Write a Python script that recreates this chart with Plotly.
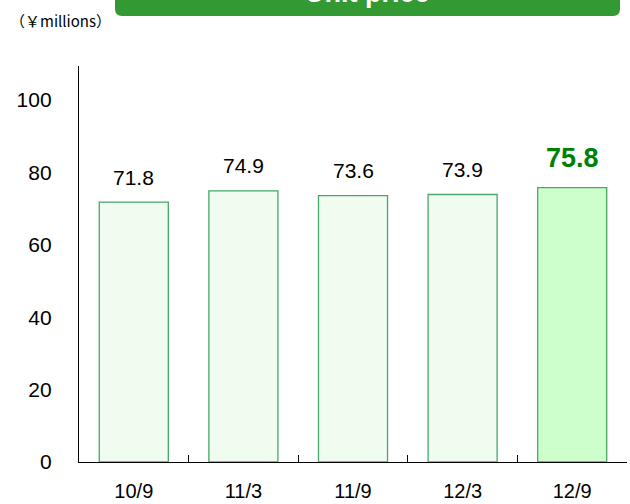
import plotly.graph_objects as go

categories = ["10/9", "11/3", "11/9", "12/3", "12/9"]
values = [71.8, 74.9, 73.6, 73.9, 75.8]
y_ticks = [0, 20, 40, 60, 80, 100]
title_text = "Unit price"
unit_text = "（￥millions）"

FONT = "Liberation Sans, Arial, sans-serif"

fills = ["#effcef"] * 4 + ["#ccffcc"]

fig = go.Figure()
fig.add_trace(go.Bar(
    x=categories, y=values,
    width=0.63,
    marker=dict(color=fills, line=dict(color="#45a86a", width=1.3)),
    hoverinfo="skip",
))

for i, (c, v) in enumerate(zip(categories, values)):
    last = i == len(values) - 1
    fig.add_annotation(
        x=c, y=v, xref="x", yref="y", text=f"<b>{v}</b>" if last else f"{v}",
        showarrow=False, yanchor="middle", yshift=30 if last else 25,
        font=dict(family=FONT, size=27 if last else 21, color="#008000" if last else "#000000"),
    )

W, H = 630, 504
L, R, T, B = 79, 3, 66, 42
pw, ph = W - L - R, H - T - B

def px_x(p):
    return (p - L) / pw

def px_y(p):
    return (H - B - p) / ph

# title box (rounded)
x0, x1 = px_x(115), px_x(620)
y0, y1 = px_y(16), px_y(-30)
rx, ry = 7 / pw, 7 / ph
path = (f"M {x0+rx},{y0} L {x1-rx},{y0} Q {x1},{y0} {x1},{y0+ry} L {x1},{y1} "
        f"L {x0},{y1} L {x0},{y0+ry} Q {x0},{y0} {x0+rx},{y0} Z")
fig.add_shape(type="path", path=path, xref="paper", yref="paper",
              fillcolor="#339933", line=dict(width=0), layer="above")
fig.add_annotation(x=(x0 + x1) / 2, y=px_y(-7), xref="paper", yref="paper",
                   text=f"<b>{title_text}</b>", showarrow=False, yanchor="middle",
                   font=dict(family=FONT, size=27, color="white"))
fig.add_annotation(x=px_x(8), y=px_y(20), xref="paper", yref="paper", xanchor="left",
                   yanchor="middle", text=unit_text, showarrow=False,
                   font=dict(family="Noto Sans CJK JP, sans-serif", size=15, color="#000000"))

fig.update_layout(
    width=W, height=H,
    margin=dict(l=L, r=R, t=T, b=B, pad=0, autoexpand=False),
    paper_bgcolor="white", plot_bgcolor="white",
    showlegend=False, bargap=0.37,
    font=dict(family=FONT, size=20, color="#000000"),
)
fig.update_xaxes(
    automargin=False,
    showline=True, linecolor="#000000", linewidth=1.3,
    ticks="inside", tickson="boundaries", ticklen=7, tickcolor="#000000", tickwidth=1.3,
    ticklabelstandoff=11, tickfont=dict(size=20), showgrid=False, zeroline=False,
)
fig.update_yaxes(
    automargin=False,
    range=[0, (H - B - T) / 3.62], showline=True, linecolor="#000000", linewidth=1.3,
    ticks="", tickvals=y_ticks, ticklabelstandoff=22, tickfont=dict(size=21),
    showgrid=False, zeroline=False,
)

fig.write_html("out.html")
